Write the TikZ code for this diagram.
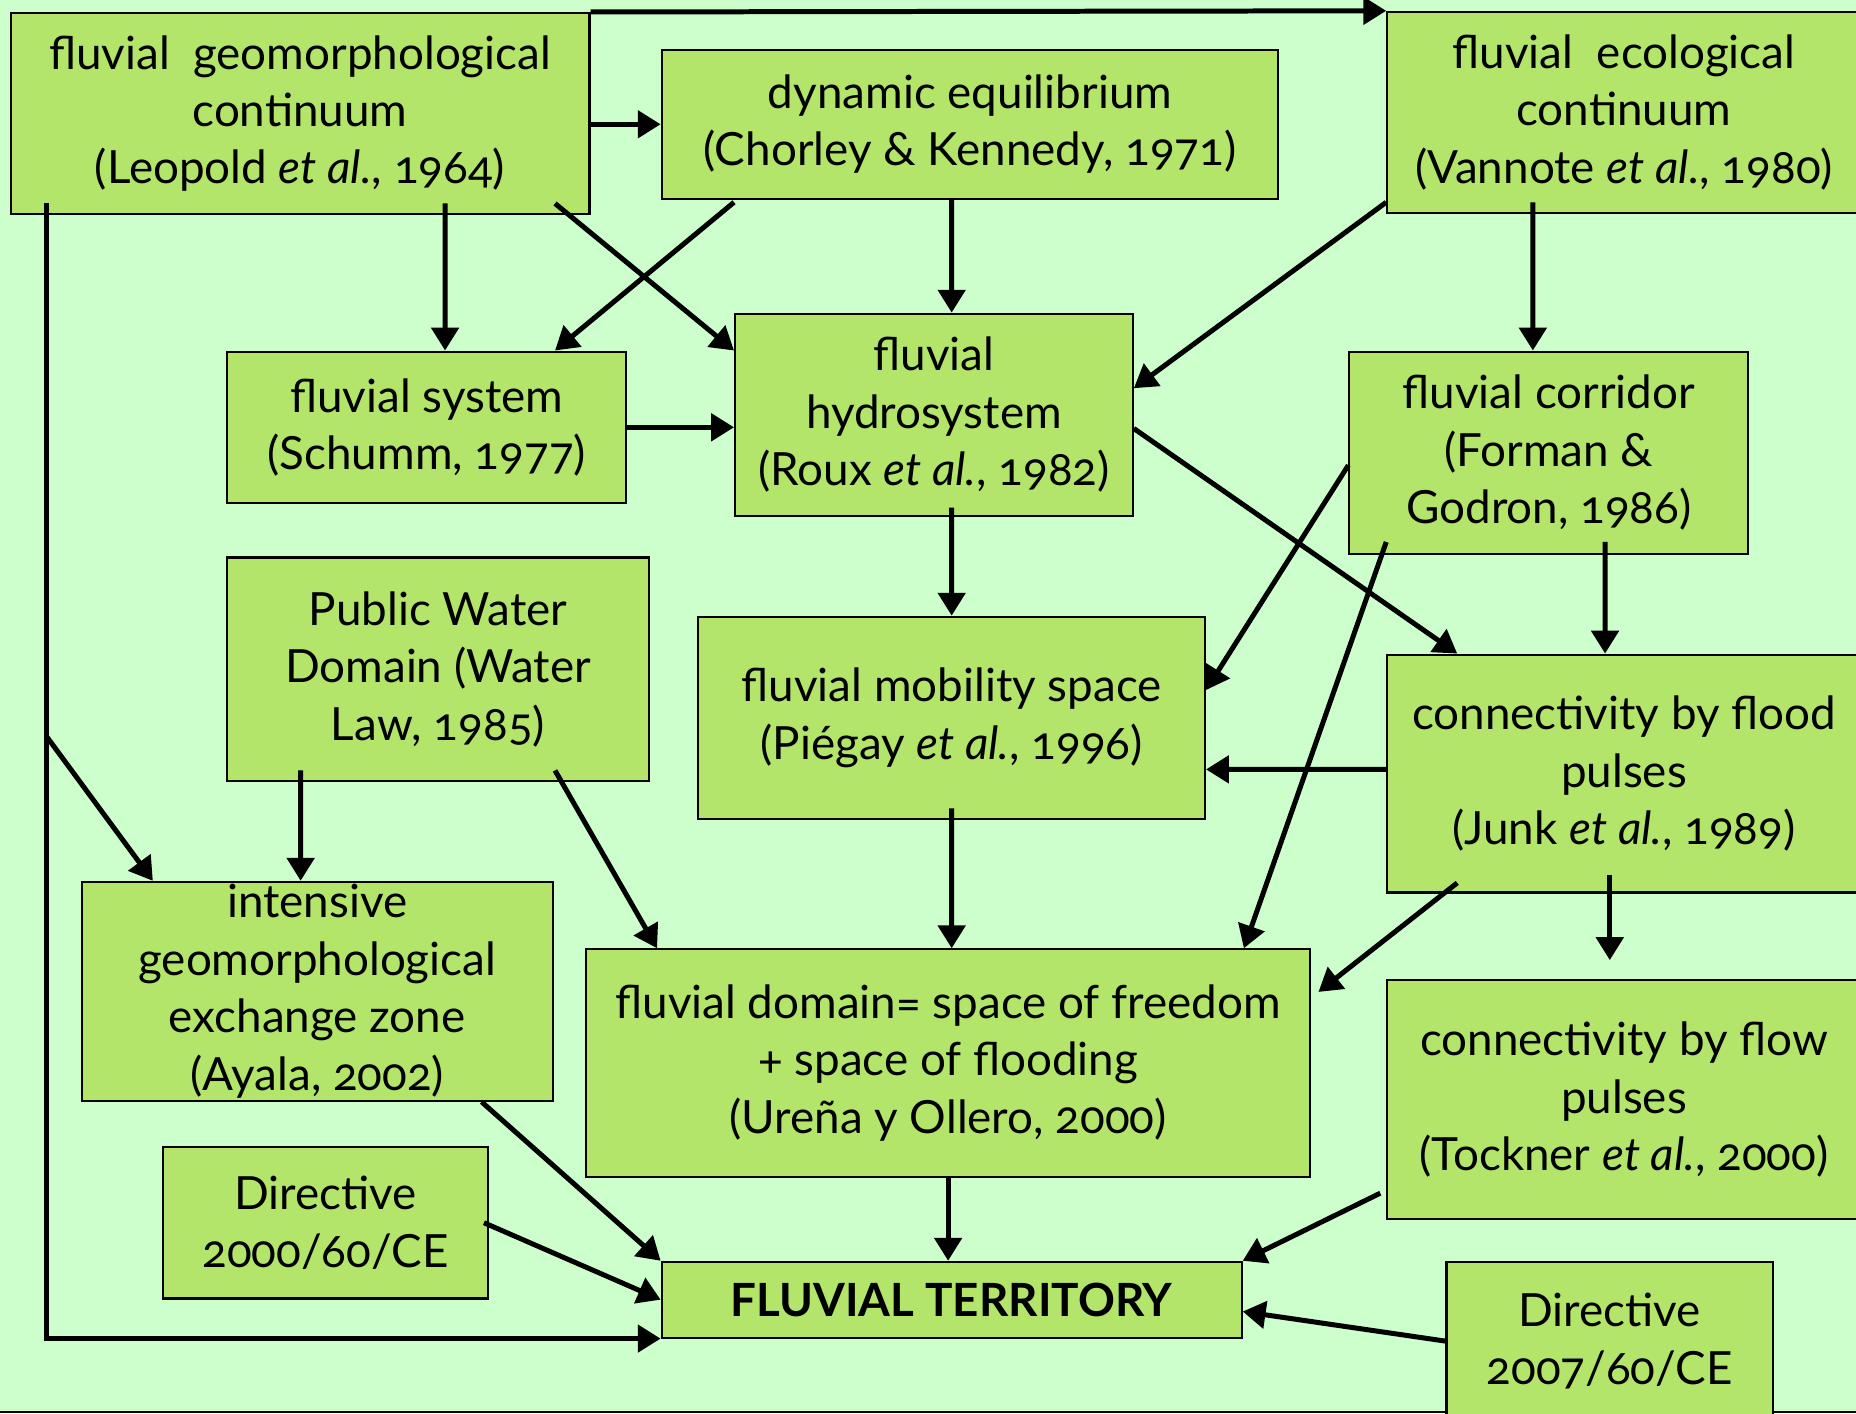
\documentclass[tikz,border=0pt]{standalone}
\usepackage{fontspec}
\setmainfont{Lato}[Numbers=OldStyle]
\usepackage{tikz}
\usetikzlibrary{arrows.meta, positioning, calc}
\definecolor{bggreen}{RGB}{204,255,204}
\definecolor{boxgreen}{RGB}{179,229,107}
\begin{document}
\begin{tikzpicture}[x=0.1mm, y=-0.1mm,
    font=\fontsize{11}{13.8}\selectfont,
    box/.style={draw, line width=0.5pt, fill=boxgreen, align=center, inner sep=0pt},
    arr/.style={line width=1.2pt, -{Triangle[length=5.5pt,width=6.5pt]}}]

    % background
    \fill[bggreen] (0,0) rectangle (1568,1194);
    \useasboundingbox (0,0) rectangle (1568,1194);
    \draw[line width=0.6pt] (0,1193) -- (1568,1193);

    % boxes
    \node[box, minimum width=48.9mm, minimum height=17mm] (geo) at (253.5,96)
        {fluvial\ \ geomorphological\\continuum\\(Leopold \textit{et al.}, 1964)};
    \node[box, minimum width=52.1mm, minimum height=12.6mm] (equil) at (819.5,105)
        {dynamic equilibrium\\(Chorley \& Kennedy, 1971)};
    \node[box, minimum width=40mm, minimum height=17mm] (eco) at (1372,95)
        {fluvial\ \ ecological\\continuum\\(Vannote \textit{et al.}, 1980)};
    \node[box, minimum width=33.7mm, minimum height=12.8mm] (system) at (360.5,361)
        {fluvial system\\(Schumm, 1977)};
    \node[box, minimum width=33.6mm, minimum height=17.1mm] (hydro) at (789,350.5)
        {fluvial\\hydrosystem\\(Roux \textit{et al.}, 1982)};
    \node[box, minimum width=33.7mm, minimum height=17.1mm] (corridor) at (1308.5,382.5)
        {fluvial corridor\\(Forman \&\\Godron, 1986)};
    \node[box, minimum width=35.6mm, minimum height=18.9mm] (public) at (370,565.5)
        {Public Water\\Domain (Water\\Law, 1985)};
    \node[box, minimum width=42.8mm, minimum height=17.1mm] (mobility) at (804,606.5)
        {fluvial mobility space\\(Piégay \textit{et al.}, 1996)};
    \node[box, minimum width=40mm, minimum height=20.1mm] (flood) at (1372,653.5)
        {connectivity by flood\\pulses\\(Junk \textit{et al.}, 1989)};
    \node[box, minimum width=39.8mm, minimum height=18.5mm] (exchange) at (268,837.5)
        {intensive\\geomorphological\\exchange zone\\(Ayala, 2002)};
    \node[box, minimum width=61.2mm, minimum height=19.2mm] (domain) at (801,898)
        {fluvial domain= space of freedom\\+ space of flooding\\(Ureña y Ollero, 2000)};
    \node[box, minimum width=40mm, minimum height=20.2mm] (flow) at (1372,929)
        {connectivity by flow\\pulses\\(Tockner \textit{et al.}, 2000)};
    \node[box, minimum width=27.4mm, minimum height=12.8mm] (wfd) at (275,1033)
        {Directive\\2000/60/CE};
    \node[box, minimum width=49mm, minimum height=6.4mm] (territory) at (804,1098)
        {\textbf{FLUVIAL TERRITORY}};
    \node[box, minimum width=27.6mm, minimum height=13.4mm] (fd) at (1360,1133)
        {Directive\\2007/60/CE};

    % arrows from the top row
    \draw[arr] (geo.north east) -- (eco.north west);
    \draw[arr] (geo.east |- equil.west) -- (equil.west);
    \draw[arr] ([xshift=12.25mm,yshift=1mm]geo.south) -- ([xshift=1.55mm]system.north);
    \draw[arr] ([xshift=-3mm,yshift=1mm]geo.south east) -- ([yshift=-3.2mm]hydro.north west);
    \draw[arr] ([xshift=6.2mm,yshift=-0.2mm]equil.south west) -- ([xshift=-6.1mm]system.north east);
    \draw[arr] ([xshift=-1.55mm]equil.south) -- ([xshift=1.5mm]hydro.north);
    \draw[arr] ([yshift=1mm]eco.south west) -- ([yshift=2.25mm]hydro.east);
    \draw[arr] ([xshift=-7.7mm,yshift=1mm]eco.south) -- ([xshift=-1.35mm]corridor.north);
    \draw[arr] ([xshift=3.1mm,yshift=1mm]geo.south west) |- (territory.south west);
    \draw[arr] ([xshift=3.1mm,yshift=-44mm]geo.south west) -- ([xshift=6.1mm]exchange.north west);

    % middle rows
    \draw[arr] (system.east) -- (system.east -| hydro.west);
    \draw[arr] ([yshift=-1.15mm]hydro.east) -- ([xshift=6mm]flood.north west);
    \draw[arr] ([xshift=1.5mm,yshift=0.8mm]hydro.south) -- (mobility.north);
    \draw[arr] ([yshift=-1.05mm]corridor.west) -- ([yshift=2.35mm]mobility.east);
    \draw[arr] ([xshift=3.2mm,yshift=1.1mm]corridor.south west) -- ([xshift=-5.7mm]domain.north east);
    \draw[arr] ([xshift=4.75mm,yshift=1.1mm]corridor.south) -- ([xshift=-1.6mm]flood.north);
    \draw[arr] ([xshift=-11.6mm,yshift=1mm]public.south) -- ([xshift=-1.4mm]exchange.north);
    \draw[arr] ([xshift=-8mm,yshift=1mm]public.south east) -- ([xshift=6.1mm]domain.north west);
    \draw[arr] ([yshift=0.35mm]flood.west) -- ([yshift=-4.35mm]mobility.east);
    \draw[arr] ([xshift=6mm,yshift=0.9mm]flood.south west) -- ([xshift=0.6mm,yshift=6mm]domain.east);
    \draw[arr] ([xshift=-1.2mm,yshift=1.6mm]flood.south) -- ([xshift=-1.2mm,yshift=1.6mm]flow.north);
    \draw[arr] ([yshift=1mm]mobility.south) -- ([xshift=0.3mm]domain.north);

    % into the fluvial territory
    \draw[arr] ([xshift=-6.1mm]exchange.south east) -- (territory.north west);
    \draw[arr] ([xshift=-0.4mm]wfd.east) -- (territory.west);
    \draw[arr] (domain.south) -- (domain.south |- territory.north);
    \draw[arr] ([xshift=-0.5mm,yshift=-7.9mm]flow.west) -- (territory.north east);
    \draw[arr] (fd.west) -- ([yshift=-1mm]territory.east);
\end{tikzpicture}
\end{document}
